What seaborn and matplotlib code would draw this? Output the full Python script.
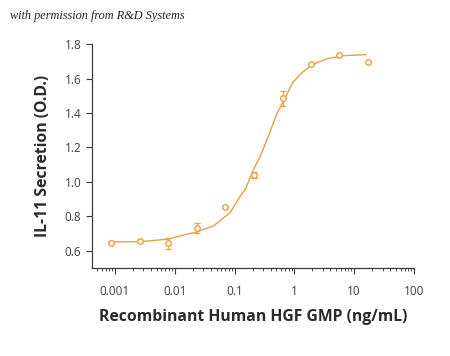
import numpy as np
import pandas as pd
import matplotlib
matplotlib.use("Agg")
import matplotlib.pyplot as plt
import seaborn as sns
from matplotlib.ticker import LogLocator, FixedLocator, FixedFormatter, NullFormatter

# Measured points (3-fold dilution series)
conc = [0.00085, 0.0026, 0.0078, 0.0234, 0.070, 0.209, 0.64, 1.87, 5.66, 16.9]
od = [0.646, 0.656, 0.643, 0.733, 0.855, 1.040, 1.485, 1.686, 1.739, 1.698]
err = [0.004, 0.0, 0.03, 0.03, 0.0, 0.02, 0.045, 0.0, 0.0, 0.0]

# Fitted curve (log10 concentration, O.D.)
curve_logx = [-3.055, -2.581, -2.111, -1.909, -1.629, -1.351, -1.070, -0.903, -0.819,
              -0.680, -0.567, -0.455, -0.287, -0.203, -0.022, 0.132, 0.300, 0.523,
              0.804, 1.195]
curve_y = [0.652, 0.653, 0.668, 0.687, 0.710, 0.745, 0.823, 0.919, 0.958,
           1.074, 1.151, 1.248, 1.400, 1.455, 1.580, 1.636, 1.681, 1.713,
           1.733, 1.739]

xticks = [0.001, 0.01, 0.1, 1, 10, 100]
xticklabels = ["0.001", "0.01", "0.1", "1", "10", "100"]
yticks = [0.6, 0.8, 1.0, 1.2, 1.4, 1.6, 1.8]
yticklabels = ["0.6", "0.8", "1.0", "1.2", "1.4", "1.6", "1.8"]

orange = "#E9A044"
axcol = "#3a3a3a"

sns.set_theme(style="ticks")
plt.rcParams['font.family'] = ['Open Sans', 'DejaVu Sans']

fig = plt.figure(figsize=(4.5, 3.56), dpi=100)
ax = fig.add_axes([0.204, 0.247, 0.716, 0.629])

curve_df = pd.DataFrame({"x": [10 ** v for v in curve_logx], "y": curve_y})
sns.lineplot(data=curve_df, x="x", y="y", ax=ax, color=orange, lw=1.0, sort=True)

pts = pd.DataFrame({"x": conc, "y": od, "e": err})
ax.errorbar(pts["x"], pts["y"], yerr=pts["e"], fmt="none", ecolor=orange,
            elinewidth=0.9, capsize=2.5, capthick=0.9, zorder=3)
sns.scatterplot(data=pts, x="x", y="y", ax=ax, marker="o", s=16,
                facecolor="white", edgecolor=orange, linewidth=1.0, zorder=4)

ax.set_xscale("log")
ax.set_xlim(0.000411, 100)
ax.set_ylim(0.5, 1.8)
ax.xaxis.set_major_locator(FixedLocator(xticks))
ax.xaxis.set_major_formatter(FixedFormatter(xticklabels))
ax.xaxis.set_minor_locator(LogLocator(base=10, subs=np.arange(2, 10), numticks=20))
ax.xaxis.set_minor_formatter(NullFormatter())
ax.yaxis.set_major_locator(FixedLocator(yticks))
ax.yaxis.set_major_formatter(FixedFormatter(yticklabels))

sns.despine(ax=ax)
for s in ["left", "bottom"]:
    ax.spines[s].set_color(axcol)
    ax.spines[s].set_linewidth(0.9)
ax.tick_params(axis="both", which="major", direction="out", length=4, width=0.8,
               color=axcol, labelcolor="#404040", labelsize=8.5)
ax.tick_params(axis="x", which="major", pad=8)
ax.tick_params(axis="x", which="minor", direction="out", length=2.5, width=0.6, color=axcol)

ax.set_xlabel("Recombinant Human HGF GMP (ng/mL)", fontsize=11.3, fontweight="bold",
              color="#2a2a2a", labelpad=8)
ax.set_ylabel("IL-11 Secretion (O.D.)", fontsize=11.3, fontweight="bold",
              color="#2a2a2a", labelpad=10)

fig.text(0.022, 0.955, "with permission from R&D Systems", fontsize=8.8,
         family=["Liberation Serif", "DejaVu Serif"], style="italic", color="#222222",
         va="center", ha="left")

fig.savefig("out.png", dpi=100)
